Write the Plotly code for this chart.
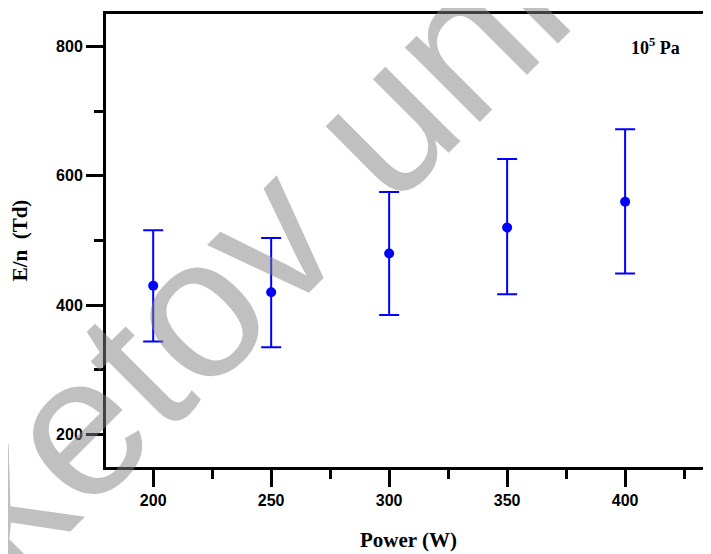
import plotly.graph_objects as go

power = [200, 250, 300, 350, 400]
en_td = [430, 420, 480, 520, 560]
err_plus = [86, 84, 95, 106, 112]
err_minus = [86, 85, 95, 103, 111]

W, H = 703, 546  # page body has an 8px margin
L, T, B, R = 98, 6, 87, 0
PW, PH = W - L - R, H - T - B

def sx(px):  # screen x -> domain x
    return (px - 8 - L) / PW

def sy(py):  # screen y -> domain y
    return 1 - (py - 8 - T) / PH

fig = go.Figure()
fig.add_trace(go.Scatter(
    x=power, y=en_td, mode="markers",
    marker=dict(color="#0000ff", size=10),
    error_y=dict(type="data", symmetric=False, array=err_plus, arrayminus=err_minus,
                 color="#0000ff", thickness=2, width=10),
    showlegend=False,
))

axis_common = dict(
    showline=True, linecolor="black", linewidth=3,
    ticks="outside", ticklen=17, tickwidth=3, tickcolor="black",
    showgrid=False, zeroline=False, automargin=False,
    tickfont=dict(family="Liberation Sans, Arial", size=16, color="black", weight="bold"),
)

fig.update_xaxes(
    range=[180, 436.4], tickvals=[200, 250, 300, 350, 400],
    minor=dict(tickvals=[225, 275, 325, 375, 425], ticklen=9, tickwidth=3, tickcolor="black", ticks="outside"),
    mirror=True,
    title=dict(text="Power (W)", font=dict(family="Liberation Serif, Times New Roman", size=21, color="black", weight="bold"), standoff=25),
    **axis_common,
)
fig.update_yaxes(
    range=[150, 850], tickvals=[200, 400, 600, 800],
    minor=dict(tickvals=[300, 500, 700], ticklen=9, tickwidth=3, tickcolor="black", ticks="outside"),
    title=dict(text="E/n  (Td)", font=dict(family="Liberation Serif, Times New Roman", size=21, color="black", weight="bold"), standoff=24),
    **axis_common,
)

fig.add_annotation(
    xref="x domain", yref="y domain", x=sx(655), y=sy(46),
    xanchor="center", yanchor="middle",
    text="10<sup>5</sup> Pa", showarrow=False,
    font=dict(family="Liberation Serif, Times New Roman", size=18, color="black", weight="bold"),
)

fig.add_annotation(
    xref="x domain", yref="y domain", x=sx(248), y=sy(256),
    xanchor="center", yanchor="middle",
    text="ketov uni", showarrow=False, textangle=-45,
    font=dict(family="Liberation Sans, Arial", size=200, color="rgba(130,130,130,0.5)"),
)

fig.update_layout(
    width=W, height=H,
    margin=dict(l=L, r=R, t=T, b=B, autoexpand=False),
    plot_bgcolor="white", paper_bgcolor="white",
)

fig.write_html("out.html")
